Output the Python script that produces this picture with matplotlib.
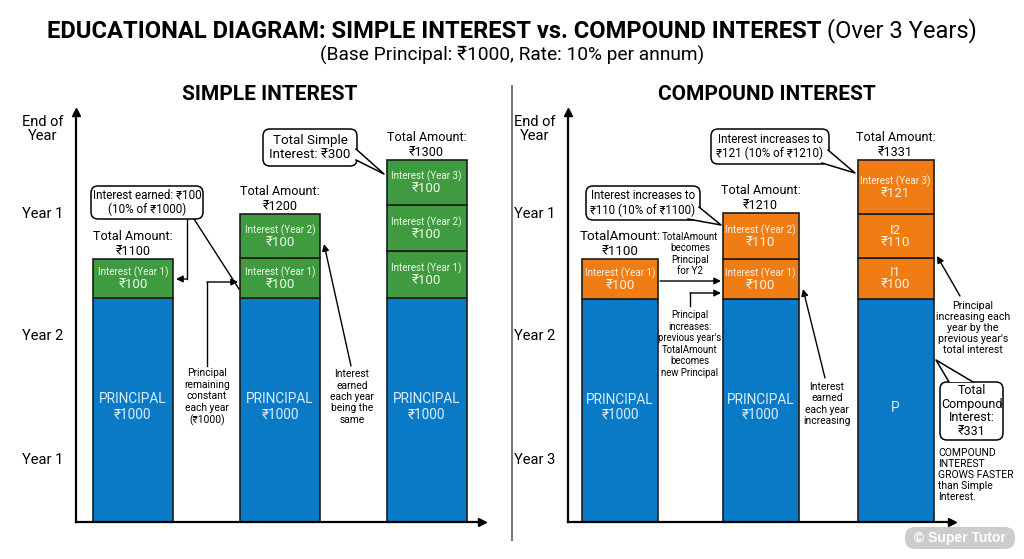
import matplotlib.pyplot as plt
from matplotlib.patches import FancyBboxPatch, Polygon

plt.rcParams['font.family'] = ['Roboto', 'DejaVu Sans']

# ---- data -------------------------------------------------------------
simple_values = [[1000, 100], [1000, 100, 100], [1000, 100, 100, 100]]
simple_labels = [["PRINCIPAL", "Interest (Year 1)"],
                 ["PRINCIPAL", "Interest (Year 1)", "Interest (Year 2)"],
                 ["PRINCIPAL", "Interest (Year 1)", "Interest (Year 2)", "Interest (Year 3)"]]
# block heights as drawn in the picture (the diagram is not to scale)
simple_heights = [[224, 39], [224, 40, 44], [224, 47, 46, 45]]
simple_totals = [1100, 1200, 1300]
simple_total_titles = ["Total Amount:", "Total Amount:", "Total Amount:"]

compound_values = [[1000, 100], [1000, 100, 110], [1000, 100, 110, 121]]
compound_labels = [["PRINCIPAL", "Interest (Year 1)"],
                   ["PRINCIPAL", "Interest (Year 1)", "Interest (Year 2)"],
                   ["P", "I1", "I2", "Interest (Year 3)"]]
compound_heights = [[223, 40], [223, 40, 46], [223, 41, 44, 54]]
compound_totals = [1100, 1210, 1331]
compound_total_titles = ["TotalAmount:", "Total Amount:", "Total Amount:"]

simple_ylabels = ["End of\nYear", "Year 1", "Year 2", "Year 1"]
compound_ylabels = ["End of\nYear", "Year 1", "Year 2", "Year 3"]
ylabel_pos = [395, 310, 187, 64]

BLUE = "#0a79c6"
GREEN = "#3f9a40"
ORANGE = "#f07c14"
EDGE = "#1c1c1c"

fig = plt.figure(figsize=(10.24, 5.59), dpi=100)
W, H = 1024, 559


def panel(x0, x1, ytop, ybot):
    ax = fig.add_axes([x0 / W, (H - ybot) / H, (x1 - x0) / W, (ybot - ytop) / H])
    ax.set_xlim(0, x1 - x0)
    ax.set_ylim(0, ybot - ytop)
    ax.patch.set_alpha(0)
    for s in ("top", "right"):
        ax.spines[s].set_visible(False)
    for s in ("left", "bottom"):
        ax.spines[s].set_linewidth(1.6)
    ax.plot(1, 0, ">k", ms=6, transform=ax.get_yaxis_transform(), clip_on=False)
    ax.plot(0, 1, "^k", ms=6, transform=ax.get_xaxis_transform(), clip_on=False)
    ax.set_xticks([])
    return ax


def draw_bars(ax, centers, width, heights, values, labels, totals, titles, icolor, tcolor):
    for k, (cx, hs, vals, labs, tot, tit) in enumerate(
            zip(centers, heights, values, labels, totals, titles)):
        bottom = 0
        for j, (h, v, lab) in enumerate(zip(hs, vals, labs)):
            ax.bar(cx, h, width, bottom=bottom, color=BLUE if j == 0 else icolor,
                   edgecolor=EDGE, linewidth=1.2, zorder=2)
            mid = bottom + h / 2
            if j == 0:
                txt = lab if lab == "P" else f"{lab}\n₹{v}"
                ax.text(cx, mid + 3, txt, ha="center", va="center", fontsize=9.8,
                        color="#d8f0ff", linespacing=1.12, zorder=3)
            else:
                small = lab.startswith("Interest")
                ax.text(cx, mid + 6, lab, ha="center", va="center",
                        fontsize=7.1 if small else 9.6, color=tcolor, zorder=3)
                ax.text(cx, mid - 6.5, f"₹{v}", ha="center", va="center", fontsize=9.6,
                        color=tcolor, zorder=3)
            bottom += h
        ax.text(cx, bottom + 15, f"{tit}\n₹{tot}", ha="center", va="center",
                fontsize=9.6 if tit == "TotalAmount:" else 9.1, linespacing=1.12)


axL = panel(76, 482, 112, 522)
axL.set_yticks(ylabel_pos, simple_ylabels, fontsize=10.5)
draw_bars(axL, [57, 204, 350.5], 80, simple_heights, simple_values, simple_labels,
          simple_totals, simple_total_titles, GREEN, "#eefbe8")

axR = panel(568, 952, 112, 522)
axR.set_yticks(ylabel_pos, compound_ylabels, fontsize=10.5)
draw_bars(axR, [52, 192.5, 327.5], 76, compound_heights, compound_values, compound_labels,
          compound_totals, compound_total_titles, ORANGE, "#fff2e2")

for ax in (axL, axR):
    ax.tick_params(axis="y", length=0, pad=9)
    for lab in ax.get_yticklabels():
        lab.set_multialignment("center")
        lab.set_linespacing(1.05)

# ---- overlay for titles and annotations (pixel coordinates) -----------
ov = fig.add_axes([0, 0, 1, 1], zorder=5)
ov.set_xlim(0, W)
ov.set_ylim(H, 0)
ov.axis("off")

fig.canvas.draw()
rend = fig.canvas.get_renderer()
t1 = ov.text(0, 31, "EDUCATIONAL DIAGRAM: SIMPLE INTEREST vs. COMPOUND INTEREST",
             fontsize=17.1, fontweight="bold", va="center")
t2 = ov.text(0, 31, "(Over 3 Years)", fontsize=17.1, va="center")
w1 = t1.get_window_extent(rend).width
w2 = t2.get_window_extent(rend).width
gap = 6
start = W / 2 - (w1 + gap + w2) / 2
t1.set_x(start)
t2.set_x(start + w1 + gap)

ov.text(512, 55, "(Base Principal: ₹1000, Rate: 10% per annum)", fontsize=13.8,
        ha="center", va="center")
ov.text(270, 95, "SIMPLE INTEREST", fontsize=15, fontweight="bold", ha="center", va="center")
ov.text(767, 95, "COMPOUND INTEREST", fontsize=15, fontweight="bold", ha="center", va="center")
ov.plot([512, 512], [86, 540], color="#7a7a7a", lw=1.5)

arrow = dict(arrowstyle="-|>", color="k", lw=1.0, mutation_scale=10, shrinkA=0, shrinkB=0)


def arr(p0, p1):
    ov.annotate("", xy=p1, xytext=p0, arrowprops=arrow)


def note(x, y, text, fs, ls):
    ov.text(x, y, text, fontsize=fs, ha="center", va="center", linespacing=ls)


def callout(x0, y0, x1, y1, text, fs, ls, tail=None):
    box = FancyBboxPatch((x0, y0), x1 - x0, y1 - y0,
                         boxstyle="round,pad=0,rounding_size=7",
                         fc="white", ec="k", lw=1.1, zorder=6)
    ov.add_patch(box)
    if tail is not None:
        b1, b2, tip = tail
        ov.add_patch(Polygon([b1, b2, tip], closed=True, fc="white", ec="none", zorder=7))
        ov.plot([b1[0], tip[0], b2[0]], [b1[1], tip[1], b2[1]], color="k", lw=1.1, zorder=8)
    ov.text((x0 + x1) / 2, (y0 + y1) / 2, text, ha="center", va="center", fontsize=fs,
            linespacing=ls, zorder=9)


# simple interest annotations
callout(91, 186, 203, 219, "Interest earned: ₹100\n(10% of ₹1000)", 8.4, 1.15)
ov.plot([187, 187], [219, 279], color="k", lw=1.0)
arr((187, 279), (176, 279))
ov.plot([194, 239], [219, 289], color="k", lw=1.0)

ov.plot([207, 207], [366, 282], color="k", lw=1.0)
arr((207, 282), (238, 282))
note(207, 397, "Principal\nremaining\nconstant\neach year\n(₹1000)", 7.4, 1.17)

note(352, 397, "Interest\nearned\neach year\nbeing the\nsame", 7.4, 1.17)
arr((351, 366), (324, 244))

callout(263, 129, 357, 166, "Total Simple\nInterest: ₹300", 9.6, 1.05,
        tail=((356, 149), (356, 160), (384, 174)))

# compound interest annotations
callout(586, 186, 700, 220, "Interest increases to\n₹110 (10% of ₹1100)", 8.3, 1.15,
        tail=((688, 219), (699, 207), (721, 225)))
note(690, 254, "TotalAmount\nbecomes\nPrincipal\nfor Y2", 7.0, 1.13)
arr((660, 281), (721, 281))
ov.plot([690, 690], [306, 293], color="k", lw=1.0)
arr((690, 293), (721, 293))
note(690, 344, "Principal\nincreases:\nprevious year's\nTotalAmount\nbecomes\nnew Principal",
     6.9, 1.18)

note(827, 404, "Interest\nearned\neach year\nincreasing", 7.4, 1.15)
arr((825, 378), (803, 289))

callout(711, 129, 829, 164, "Interest increases to\n₹121 (10% of ₹1210)", 8.4, 1.15,
        tail=((822, 163), (828, 150), (855, 173)))

note(973, 328, "Principal\nincreasing each\nyear by the\nprevious year's\ntotal interest",
     7.7, 1.12)
arr((960, 296), (937, 256))

callout(940, 382, 1003, 440, "Total\nCompound\nInterest:\n₹331", 9.0, 1.07,
        tail=((949, 382), (973, 382), (936, 360)))

ov.text(938, 448, "COMPOUND\nINTEREST\nGROWS FASTER\nthan Simple\nInterest.", fontsize=7.5,
        ha="left", va="top", linespacing=1.13)

ov.add_patch(FancyBboxPatch((905, 527), 110, 22, boxstyle="round,pad=0,rounding_size=10",
                            fc="#c4c4c4", ec="none", alpha=0.85, zorder=6))
ov.text(960, 538, "© Super Tutor", fontsize=10, fontweight="bold", color="white",
        ha="center", va="center", zorder=7, family=["Liberation Sans", "DejaVu Sans"])

fig.savefig("out.png", dpi=100)
